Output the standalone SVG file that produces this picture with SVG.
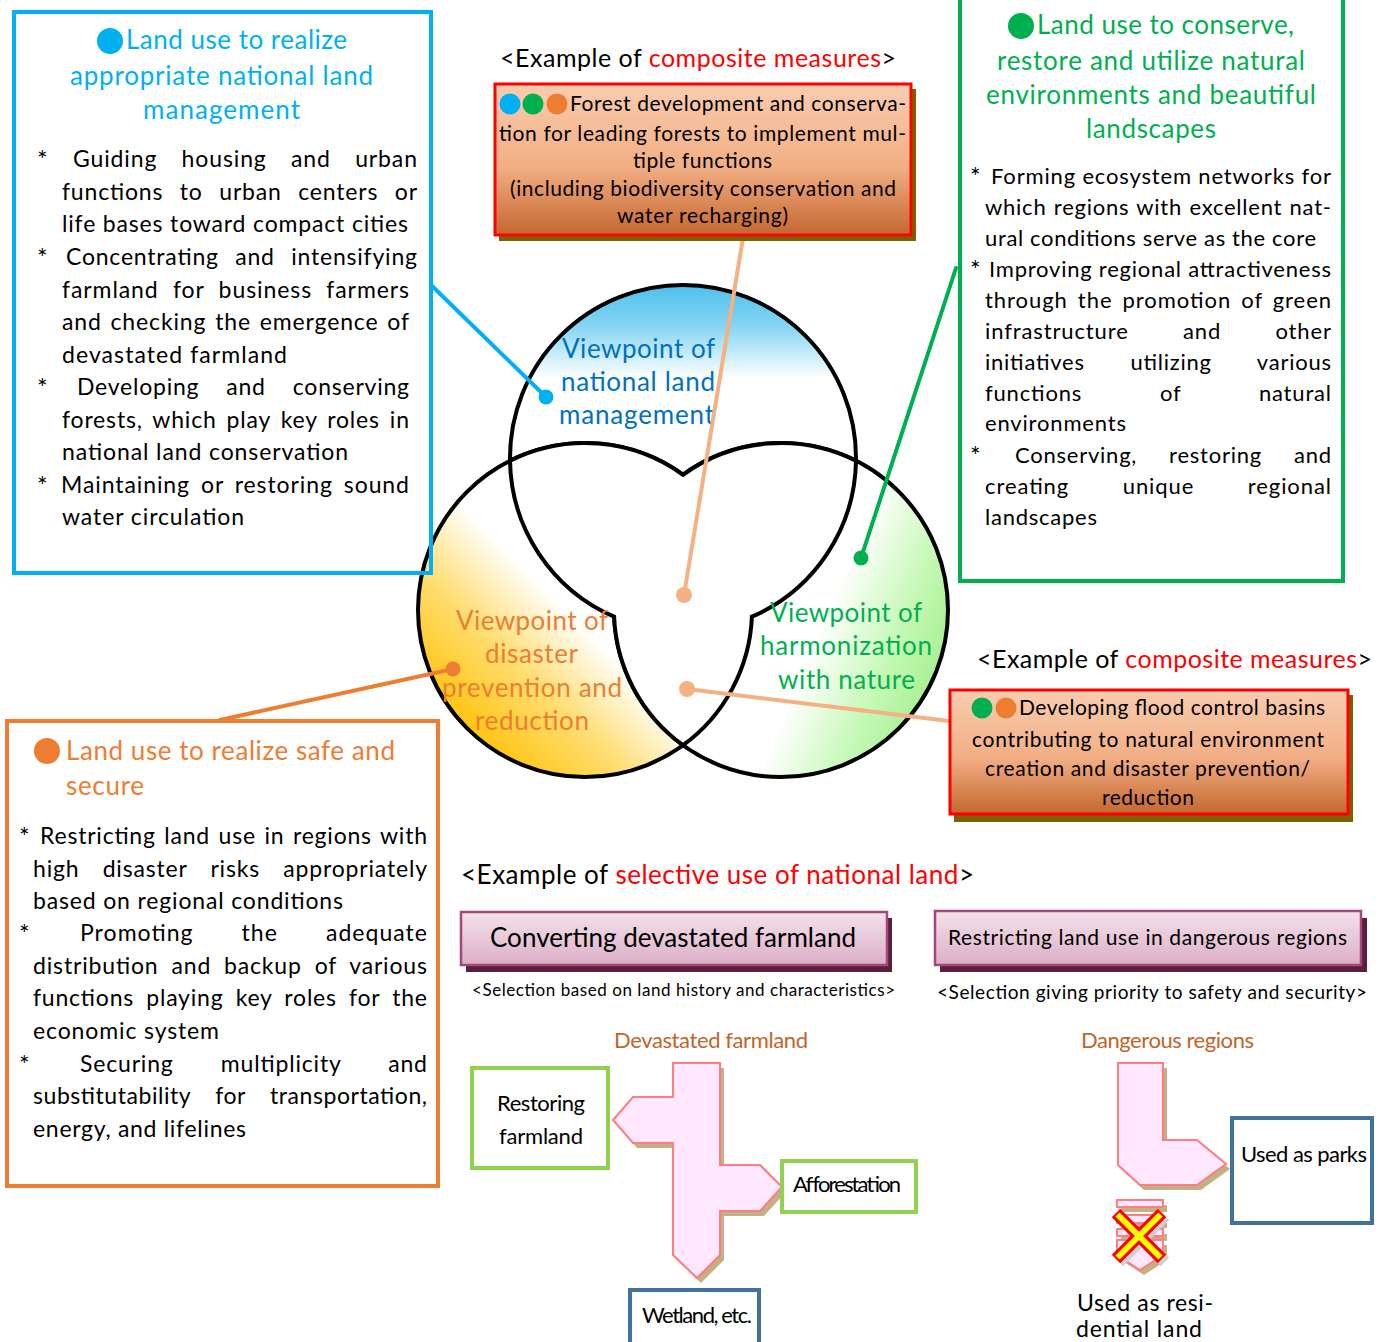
<svg xmlns="http://www.w3.org/2000/svg" width="1390" height="1342" viewBox="0 0 1390 1342">
<style>
text{font-family:Lato,"Liberation Sans",sans-serif;}
.t26{font-size:26px;}
.b23{font-size:23px;fill:#000;}
.b22{font-size:22px;fill:#000;}
.c21{font-size:21px;fill:#000;}
.star{font-size:25px;}
.blue{fill:#00B0F0;}
.green{fill:#00B050;}
.orange{fill:#ED7D31;}
.red{fill:#FF0000;}
.conn{fill:none;stroke-width:4;stroke-linecap:round;}
.venn{stroke:#000;stroke-width:4;}
.arrow{fill:#FFE7FF;stroke:#FF7C80;stroke-width:2;stroke-linejoin:miter;}
.ashadow{fill:#C2B184;}
.flow{font-size:22px;fill:#000;}
.brown{font-size:22px;fill:#C0652B;}
</style>
<defs>
<linearGradient id="gComp" x1="0" y1="0" x2="0" y2="1">
<stop offset="0" stop-color="#F9CDB0"/>
<stop offset="0.55" stop-color="#F2AE84"/>
<stop offset="1" stop-color="#C4672F"/>
</linearGradient>
<linearGradient id="gPurp" x1="0" y1="0" x2="0" y2="1">
<stop offset="0" stop-color="#F4E2EB"/>
<stop offset="1" stop-color="#DBAEC6"/>
</linearGradient>
<linearGradient id="gTop" x1="0" y1="285" x2="0" y2="631" gradientUnits="userSpaceOnUse">
<stop offset="0" stop-color="#4EC0EC"/>
<stop offset="0.12" stop-color="#86D5F3"/>
<stop offset="0.27" stop-color="#FFFFFF"/>
</linearGradient>
<linearGradient id="gLeft" x1="590" y1="632" x2="470" y2="752" gradientUnits="userSpaceOnUse">
<stop offset="0" stop-color="#FFFFFF"/>
<stop offset="0.45" stop-color="#FFDD70"/>
<stop offset="1" stop-color="#FFC000"/>
</linearGradient>
<linearGradient id="gRight" x1="825" y1="615" x2="945" y2="665" gradientUnits="userSpaceOnUse">
<stop offset="0" stop-color="#FFFFFF"/>
<stop offset="0.6" stop-color="#C4F8B4"/>
<stop offset="1" stop-color="#A6F08F"/>
</linearGradient>
</defs>

<!-- Venn -->
<g id="venn">
<circle class="venn" cx="683" cy="458" r="173" fill="url(#gTop)"/>
<circle class="venn" cx="585" cy="610" r="167" fill="url(#gLeft)"/>
<circle class="venn" cx="781" cy="610" r="167" fill="url(#gRight)"/>
<path class="venn" fill="#FFFFFF" d="M510,460.8 A167,167 0 0 1 683,474.8 A167,167 0 0 1 856,460.8 A173,173 0 0 1 751.9,616.7 A167,167 0 0 1 683,745.2 A167,167 0 0 1 614.1,616.7 A173,173 0 0 1 510,460.8 Z"/>
</g>
<g id="venn-labels" class="t26">
<text x="562" y="358" textLength="153" fill="#0070C0">Viewpoint of</text>
<text x="561" y="391" textLength="154" fill="#0070C0">national land</text>
<text x="559" y="424" textLength="155" fill="#0070C0">management</text>
<text x="456" y="630" textLength="152" class="orange">Viewpoint of</text>
<text x="485" y="663" textLength="93" class="orange">disaster</text>
<text x="442" y="697" textLength="180" class="orange">prevention and</text>
<text x="475" y="730" textLength="114" class="orange">reduction</text>
<text x="770" y="622" textLength="152" class="green">Viewpoint of</text>
<text x="760" y="655" textLength="172" class="green">harmonization</text>
<text x="778" y="689" textLength="137" class="green">with nature</text>
</g>

<!-- Connectors -->
<g id="connectors">
<line class="conn" x1="431" y1="285" x2="546" y2="397" stroke="#00B0F0"/>
<line class="conn" x1="743" y1="238" x2="684" y2="595" stroke="#F4B183"/>
<line class="conn" x1="956" y1="268" x2="861" y2="558" stroke="#00B050"/>
<line class="conn" x1="220" y1="720" x2="453" y2="669" stroke="#ED7D31"/>
<line class="conn" x1="687" y1="689" x2="949" y2="721" stroke="#F4B183"/>
<circle cx="546" cy="397" r="7.5" fill="#00B0F0"/>
<circle cx="684" cy="595" r="8" fill="#F4B183"/>
<circle cx="861" cy="558" r="7.5" fill="#00B050"/>
<circle cx="453" cy="669" r="7.5" fill="#ED7D31"/>
<circle cx="687" cy="689" r="8" fill="#F4B183"/>
</g>

<!-- Top-left box -->
<g id="box-national-land">
<rect x="14" y="12" width="417" height="561" fill="none" stroke="#00B0F0" stroke-width="4"/>
<circle cx="110" cy="41" r="13" fill="#00B0F0"/>
<text class="t26 blue" x="126" y="49" textLength="221">Land use to realize</text>
<text class="t26 blue" x="70" y="85" textLength="303">appropriate national land</text>
<text class="t26 blue" x="143" y="119" textLength="157">management</text>
<g class="b23">
<text class="star" x="37" y="169">*</text><text x="73" y="167" style="word-spacing:17.6px" textLength="344">Guiding housing and urban</text>
<text x="62" y="200" style="word-spacing:9.9px" textLength="355">functions to urban centers or</text>
<text x="62" y="232" textLength="346">life bases toward compact cities</text>
<text class="star" x="37" y="267">*</text><text x="66" y="265" style="word-spacing:9.8px" textLength="351">Concentrating and intensifying</text>
<text x="62" y="298" style="word-spacing:7.5px" textLength="347">farmland for business farmers</text>
<text x="62" y="330" style="word-spacing:2px" textLength="347">and checking the emergence of</text>
<text x="62" y="363" textLength="225">devastated farmland</text>
<text class="star" x="37" y="397">*</text><text x="77" y="395" style="word-spacing:20.4px" textLength="332">Developing and conserving</text>
<text x="62" y="428" style="word-spacing:3.2px" textLength="347">forests, which play key roles in</text>
<text x="62" y="460" textLength="286">national land conservation</text>
<text class="star" x="37" y="495">*</text><text x="61" y="493" style="word-spacing:4.2px" textLength="348">Maintaining or restoring sound</text>
<text x="62" y="525" textLength="182">water circulation</text>
</g>
</g>

<!-- Top-right box -->
<g id="box-nature">
<rect x="960" y="-2" width="383" height="583" fill="none" stroke="#00B050" stroke-width="4"/>
<circle cx="1021" cy="26" r="13" fill="#00B050"/>
<text class="t26 green" x="1037" y="34" textLength="257">Land use to conserve,</text>
<text class="t26 green" x="997" y="70" textLength="308">restore and utilize natural</text>
<text class="t26 green" x="986" y="104" textLength="330">environments and beautiful</text>
<text class="t26 green" x="1086" y="138" textLength="130">landscapes</text>
<g class="b22">
<text class="star" x="970" y="186">*</text><text x="991" y="184" textLength="340">Forming ecosystem networks for</text>
<text x="985" y="215" style="word-spacing:1px" textLength="346">which regions with excellent nat-</text>
<text x="985" y="246" textLength="331">ural conditions serve as the core</text>
<text class="star" x="970" y="279">*</text><text x="989" y="277" textLength="342">Improving regional attractiveness</text>
<text x="985" y="308" style="word-spacing:3.5px" textLength="346">through the promotion of green</text>
<text x="985" y="339" style="word-spacing:47.8px" textLength="346">infrastructure and other</text>
<text x="985" y="370" style="word-spacing:39.3px" textLength="346">initiatives utilizing various</text>
<text x="985" y="401" style="word-spacing:71.3px" textLength="346">functions of natural</text>
<text x="985" y="431" textLength="141">environments</text>
<text class="star" x="970" y="465">*</text><text x="1015" y="463" style="word-spacing:25.6px" textLength="316">Conserving, restoring and</text>
<text x="985" y="494" style="word-spacing:47px" textLength="346">creating unique regional</text>
<text x="985" y="525" textLength="112">landscapes</text>
</g>
</g>

<!-- Bottom-left box -->
<g id="box-safe">
<rect x="7" y="721" width="431" height="465" fill="none" stroke="#ED7D31" stroke-width="4"/>
<circle cx="47" cy="751" r="13" fill="#ED7D31"/>
<text class="t26 orange" x="66" y="760" textLength="329">Land use to realize safe and</text>
<text class="t26 orange" x="66" y="795" textLength="78">secure</text>
<g class="b23">
<text class="star" x="19" y="846">*</text><text x="40" y="844" style="word-spacing:1.9px" textLength="387">Restricting land use in regions with</text>
<text x="33" y="877" style="word-spacing:16.5px" textLength="394">high disaster risks appropriately</text>
<text x="33" y="909" textLength="310">based on regional conditions</text>
<text class="star" x="19" y="943">*</text><text x="80" y="941" style="word-spacing:41.1px" textLength="347">Promoting the adequate</text>
<text x="33" y="974" style="word-spacing:6.2px" textLength="394">distribution and backup of various</text>
<text x="33" y="1006" style="word-spacing:5.5px" textLength="394">functions playing key roles for the</text>
<text x="33" y="1039" textLength="186">economic system</text>
<text class="star" x="19" y="1074">*</text><text x="80" y="1072" style="word-spacing:40.4px" textLength="347">Securing multiplicity and</text>
<text x="33" y="1104" style="word-spacing:18.1px" textLength="394">substitutability for transportation,</text>
<text x="33" y="1137" textLength="213">energy, and lifelines</text>
</g>
</g>

<!-- Top composite box -->
<g id="composite-forest">
<text x="500" y="67" font-size="25" textLength="396">&lt;Example of <tspan class="red">composite measures</tspan>&gt;</text>
<rect x="499" y="89" width="417" height="152" fill="#7F6000"/>
<rect x="495" y="84" width="416" height="151" fill="url(#gComp)" stroke="#FF0000" stroke-width="3"/>
<circle cx="510" cy="104" r="10.5" fill="#00B0F0"/>
<circle cx="533" cy="104" r="10.5" fill="#00B050"/>
<circle cx="557" cy="104" r="10.5" fill="#ED7D31"/>
<g class="c21">
<text x="570" y="111" textLength="336">Forest development and conserva-</text>
<text x="499" y="141" textLength="407">tion for leading forests to implement mul-</text>
<text x="633" y="168" textLength="139">tiple functions</text>
<text x="510" y="196" textLength="386">(including biodiversity conservation and</text>
<text x="617" y="223" textLength="171">water recharging)</text>
</g>
</g>

<!-- Right composite box -->
<g id="composite-flood">
<text x="977" y="668" font-size="25" textLength="395">&lt;Example of <tspan class="red">composite measures</tspan>&gt;</text>
<rect x="954" y="695" width="399" height="127" fill="#7F6000"/>
<rect x="950" y="690" width="398" height="124" fill="url(#gComp)" stroke="#FF0000" stroke-width="3"/>
<circle cx="982" cy="708" r="10.5" fill="#00B050"/>
<circle cx="1006" cy="708" r="10.5" fill="#ED7D31"/>
<g class="c21">
<text x="1019" y="715" textLength="306">Developing flood control basins</text>
<text x="972" y="747" textLength="352">contributing to natural environment</text>
<text x="985" y="776" textLength="325">creation and disaster prevention/</text>
<text x="1102" y="805" textLength="92">reduction</text>
</g>
</g>

<!-- Selective use header -->
<g id="selective-header">
<text x="461" y="884" font-size="26" textLength="513">&lt;Example of <tspan class="red">selective use of national land</tspan>&gt;</text>
</g>

<g id="box-converting">
<rect x="466" y="918" width="426" height="54" fill="#5A1F3C"/>
<rect x="461" y="912" width="426" height="53" fill="url(#gPurp)" stroke="#A4487A" stroke-width="2.5"/>
<text x="490" y="947" font-size="26" textLength="366">Converting devastated farmland</text>
<text x="472" y="996" font-size="17" textLength="423">&lt;Selection based on land history and characteristics&gt;</text>
</g>

<g id="box-restricting">
<rect x="940" y="918" width="427" height="54" fill="#5A1F3C"/>
<rect x="935" y="911" width="426" height="54" fill="url(#gPurp)" stroke="#A4487A" stroke-width="2.5"/>
<text x="948" y="945" font-size="21" textLength="399">Restricting land use in dangerous regions</text>
<text x="937" y="999" font-size="19" textLength="430">&lt;Selection giving priority to safety and security&gt;</text>
</g>

<!-- Left flow -->
<g id="flow-farmland">
<text class="brown" x="614" y="1048" textLength="194">Devastated farmland</text>
<path class="ashadow" transform="translate(4,5)" d="M673,1063 H720 V1165 H760 L782,1187 L760,1211 H720 V1255 L697,1278 L673,1255 V1143 H633 L613,1120 L633,1097 H673 Z"/>
<path class="arrow" d="M673,1063 H720 V1165 H760 L782,1187 L760,1211 H720 V1255 L697,1278 L673,1255 V1143 H633 L613,1120 L633,1097 H673 Z"/>
</g>
<g id="node-restoring">
<rect x="472" y="1068" width="136" height="100" fill="#FFFFFF" stroke="#92D050" stroke-width="4"/>
<text class="flow" x="497" y="1111" textLength="88">Restoring</text>
<text class="flow" x="499" y="1144" textLength="84">farmland</text>
</g>
<g id="node-afforestation">
<rect x="782" y="1161" width="134" height="51" fill="#FFFFFF" stroke="#92D050" stroke-width="4"/>
<text class="flow" x="793" y="1192" textLength="108">Afforestation</text>
</g>
<g id="node-wetland">
<rect x="630" y="1290" width="129" height="60" fill="#FFFFFF" stroke="#41719C" stroke-width="4"/>
<text class="flow" x="642" y="1323" textLength="110">Wetland, etc.</text>
</g>

<!-- Right flow -->
<g id="flow-dangerous">
<text class="brown" x="1081" y="1048" textLength="173">Dangerous regions</text>
<path class="ashadow" transform="translate(4,5)" d="M1118,1063 H1163 V1140 H1197 L1226,1164 L1197,1185 H1140 L1118,1165 Z"/>
<path class="arrow" d="M1118,1063 H1163 V1140 H1197 L1226,1164 L1197,1185 H1140 L1118,1165 Z"/>
</g>
<g id="node-parks">
<rect x="1232" y="1118" width="140" height="105" fill="#FFFFFF" stroke="#41719C" stroke-width="4"/>
<text class="flow" x="1241" y="1162" textLength="126">Used as parks</text>
</g>
<g id="flow-residential">
<g class="ashadow" transform="translate(4,5)">
<rect x="1117" y="1200" width="46" height="7"/>
<rect x="1117" y="1215" width="46" height="8"/>
<rect x="1117" y="1229" width="46" height="7"/>
<path d="M1117,1240 H1163 V1255 L1140,1270 L1117,1255 Z"/>
</g>
<g class="arrow">
<rect x="1117" y="1200" width="46" height="7"/>
<rect x="1117" y="1215" width="46" height="8"/>
<rect x="1117" y="1229" width="46" height="7"/>
<path d="M1117,1240 H1163 V1255 L1140,1270 L1117,1255 Z"/>
</g>
<g stroke-linecap="butt">
<path d="M1119,1216 L1165,1262 M1165,1216 L1119,1262" stroke="#D0D0D0" stroke-width="12" fill="none"/>
<path d="M1116,1213 L1162,1259 M1162,1213 L1116,1259" stroke="#FF0000" stroke-width="12" fill="none"/>
<path d="M1117.5,1214.5 L1160.5,1257.5 M1160.5,1214.5 L1117.5,1257.5" stroke="#FFFF00" stroke-width="6" fill="none"/>
</g>
<text x="1077" y="1311" font-size="23" textLength="136">Used as resi-</text>
<text x="1076" y="1337" font-size="23" textLength="126">dential land</text>
</g>
</svg>
